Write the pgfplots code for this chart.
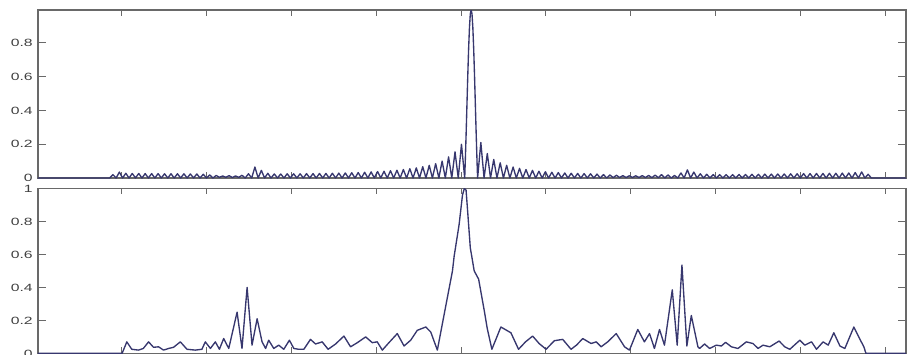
\documentclass[border=0pt]{standalone}
\usepackage{pgfplots}
\pgfplotsset{compat=1.18}
\usepackage{fontspec}
\setmainfont{Liberation Sans}
\definecolor{matline}{RGB}{55,55,110}
\definecolor{framec}{RGB}{105,105,105}
\pgfplotsset{
  mat/.style={
    scale only axis, width=868pt, xmin=1, xmax=512,
    anchor=south west,
    axis line style={framec, line width=1.1pt},
    tick align=inside, xtick pos=both, ytick pos=both, yticklabel pos=left,
    xtick={50,100,...,500}, xticklabels={},
    major tick style={framec, line width=0.9pt},
    xtick style={/pgfplots/major tick length=6pt},
    ytick style={/pgfplots/major tick length=8pt},
    /pgf/number format/assume math mode=true,
    scaled y ticks=false,
    yticklabel style={font=\fontsize{10.5}{12}\selectfont, text=black!75, xscale=1.5,
      /pgf/number format/fixed},
  },
  matplot/.style={color=matline, line width=1.35pt, mark=none, line join=round},
}
\begin{document}
\begin{tikzpicture}
\useasboundingbox (0pt,0pt) rectangle (914pt,354pt);
% ---------------- top panel ----------------
\begin{axis}[mat, at={(38pt,176pt)}, height=168pt, ymin=0, ymax=0.995,
  ytick={0,0.2,0.4,0.6,0.8}]
\addplot[matplot] coordinates {
(1,0) (43.2,0) (45.1,0.02) (47,0) (48.9,0.035) (50.8,0) (52.7,0.028) (54.6,0)
(56.5,0.027) (58.4,0) (60.3,0.027) (62.2,0) (64.1,0.026) (66,0) (67.9,0.026) (69.8,0)
(71.7,0.026) (73.6,0) (75.5,0.025) (77.4,0) (79.3,0.025) (81.2,0) (83.1,0.025) (85,0)
(86.9,0.025) (88.8,0) (90.7,0.024) (92.6,0) (94.5,0.024) (96.4,0) (98.3,0.022) (100.2,0)
(102.1,0.018) (104,0) (105.9,0.015) (107.8,0.004) (109.7,0.012) (111.6,0.004) (113.5,0.014)
(115.4,0.003) (117.3,0.012) (119.2,0.004) (121.1,0.016) (123,0) (124.9,0.025) (126.8,0)
(128.7,0.065) (130.6,0) (132.5,0.045) (134.4,0) (136.3,0.028) (138.2,0) (140.1,0.024)
(142,0) (143.9,0.024) (145.8,0) (147.7,0.025) (149.6,0) (151.5,0.025) (153.4,0)
(155.3,0.025) (157.2,0) (159.1,0.026) (161,0) (162.9,0.026) (164.8,0) (166.7,0.027)
(168.6,0) (170.5,0.027) (172.4,0) (174.3,0.028) (176.2,0) (178.1,0.029) (180,0)
(181.9,0.03) (183.8,0) (185.7,0.031) (187.6,0) (189.5,0.032) (191.4,0) (193.3,0.034)
(195.2,0) (197.1,0.036) (199,0) (200.9,0.038) (202.8,0) (204.7,0.04) (206.6,0)
(208.5,0.043) (210.4,0) (212.3,0.046) (214.2,0) (216.1,0.05) (218,0) (219.9,0.055)
(221.8,0) (223.7,0.06) (225.6,0) (227.5,0.067) (229.4,0) (231.3,0.075) (233.2,0)
(235.1,0.085) (237,0) (238.9,0.10) (240.8,0) (242.7,0.125) (244.6,0) (246.5,0.155)
(248.4,0) (250.3,0.20) (252.2,0)
(252.5,0.085) (253,0.248) (253.5,0.425) (254,0.603) (254.5,0.763) (255,0.89) (255.5,0.972)
(256,0.995) (256.5,0.972) (257,0.89) (257.5,0.763) (258,0.603) (258.5,0.425) (259,0.248)
(259.5,0.085) (259.8,0)
(261.7,0.21) (263.6,0) (265.5,0.145) (267.4,0) (269.3,0.11) (271.2,0) (273.1,0.09) (275,0)
(276.9,0.075) (278.8,0) (280.7,0.065) (282.6,0) (284.5,0.057) (286.4,0) (288.3,0.05)
(290.2,0) (292.1,0.045) (294,0) (295.9,0.04) (297.8,0) (299.7,0.037) (301.6,0)
(303.5,0.034) (305.4,0) (307.3,0.032) (309.2,0) (311.1,0.03) (313,0) (314.9,0.028)
(316.8,0) (318.7,0.027) (320.6,0) (322.5,0.026) (324.4,0) (326.3,0.025) (328.2,0)
(330.1,0.023) (332,0) (333.9,0.02) (335.8,0) (337.7,0.018) (339.6,0.002) (341.5,0.016)
(343.4,0.003) (345.3,0.014) (347.2,0.003) (349.1,0.013) (351,0.003) (352.9,0.013)
(354.8,0.003) (356.7,0.014) (358.6,0.003) (360.5,0.015) (362.4,0.002) (364.3,0.017)
(366.2,0.002) (368.1,0.02) (370,0) (371.9,0.018) (373.8,0) (375.7,0.015) (377.6,0)
(379.5,0.03) (381.4,0) (383.3,0.048) (385.2,0) (387.1,0.035) (389,0) (390.9,0.025)
(392.8,0) (394.7,0.022) (396.6,0) (398.5,0.02) (400.4,0) (402.3,0.02) (404.2,0)
(406.1,0.02) (408,0) (409.9,0.02) (411.8,0) (413.7,0.021) (415.6,0) (417.5,0.021)
(419.4,0) (421.3,0.022) (423.2,0) (425.1,0.022) (427,0) (428.9,0.023) (430.8,0)
(432.7,0.023) (434.6,0) (436.5,0.024) (438.4,0) (440.3,0.024) (442.2,0) (444.1,0.025)
(446,0) (447.9,0.025) (449.8,0) (451.7,0.026) (453.6,0) (455.5,0.026) (457.4,0)
(459.3,0.027) (461.2,0) (463.1,0.027) (465,0) (466.9,0.028) (468.8,0) (470.7,0.028)
(472.6,0) (474.5,0.029) (476.4,0) (478.3,0.03) (480.2,0) (482.1,0.032) (484,0)
(485.9,0.036) (487.8,0) (489.7,0.022) (491.6,0) (512,0)
};
\end{axis}
% ---------------- bottom panel ----------------
\begin{axis}[mat, at={(38pt,0.6pt)}, height=165pt, ymin=0, ymax=1,
  ytick={0,0.2,0.4,0.6,0.8,1}]
\addplot[matplot] coordinates {
(1,0) (50.5,0) (53.3,0.07) (56.2,0.025) (60.2,0.02) (63,0.03) (66.1,0.07) (69,0.037)
(72,0.04) (74.9,0.02) (77.9,0.03) (80.8,0.037) (84.8,0.07) (88.7,0.025) (93.6,0.02)
(97.5,0.025) (99.5,0.07) (102.5,0.03) (105.4,0.07) (107.8,0.025) (110.3,0.09) (113.3,0.03)
(118.2,0.25) (121.1,0.03) (124.1,0.40) (127,0.05) (130,0.21) (132.9,0.07) (135,0.03)
(136.8,0.08) (139.8,0.03) (142.7,0.05) (145.7,0.025) (149,0.08) (151.6,0.03) (154.5,0.025)
(157.5,0.025) (161.4,0.085) (164.4,0.057) (168.3,0.07) (171.8,0.025) (176.2,0.057)
(181.1,0.105) (185,0.04) (189,0.065) (193.9,0.10) (197.8,0.065) (200.7,0.07) (203.7,0.02)
(207.6,0.065) (212.5,0.12) (216.5,0.045) (220.4,0.08) (224.3,0.14) (229.3,0.16)
(232.2,0.13) (236.1,0.02) (241.1,0.29) (245,0.50) (246,0.59) (248.9,0.78) (250.9,0.96)
(252,1.0) (253,0.99) (253.8,0.88) (255.5,0.64) (257.8,0.50) (260.4,0.45) (263.7,0.26)
(265.5,0.15) (268.2,0.025) (273.5,0.16) (279.4,0.125) (283.9,0.025) (288,0.07)
(292.2,0.105) (296,0.06) (300.1,0.025) (305,0.077) (309.9,0.085) (314.8,0.025) (318,0.05)
(321.7,0.09) (326.6,0.06) (329.6,0.07) (332.5,0.04) (336.4,0.07) (341.4,0.12) (346.3,0.04)
(349.2,0.02) (354.1,0.145) (358,0.07) (361,0.12) (363.9,0.03) (366.9,0.145) (369.8,0.05)
(374.4,0.385) (377.3,0.05) (380.1,0.535) (383,0.045) (385.6,0.23) (389.5,0.04) (390.5,0.03)
(393.4,0.057) (396.4,0.03) (400.3,0.05) (403.3,0.045) (405.8,0.067) (409.2,0.04)
(413.1,0.03) (418,0.07) (421.9,0.06) (424.9,0.03) (427.8,0.05) (431.8,0.04) (437.3,0.075)
(440.6,0.04) (443.6,0.025) (449.5,0.08) (452.4,0.05) (456.4,0.07) (459.3,0.025)
(463.2,0.07) (466.2,0.05) (469.5,0.125) (473.1,0.045) (476,0.03) (481.3,0.16)
(484.9,0.085) (487.2,0.04) (488.4,0) (512,0)
};
\end{axis}
\end{tikzpicture}
\end{document}
